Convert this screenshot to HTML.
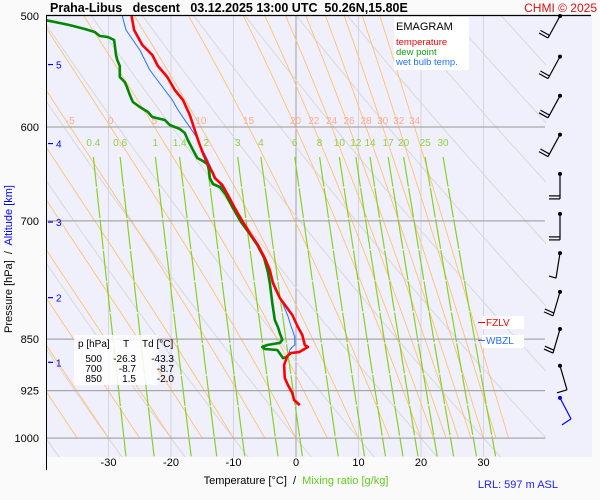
<!DOCTYPE html>
<html><head><meta charset="utf-8"><style>
body{margin:0;background:#fafafa;font-family:"Liberation Sans",sans-serif}
svg{display:block}
text{font-family:"Liberation Sans",sans-serif;white-space:pre}
</style></head><body>
<svg id="c" width="600" height="500" viewBox="0 0 600 500">
<defs>
<clipPath id="pc"><rect x="46" y="16" width="500" height="441"/></clipPath>
<clipPath id="pc1000"><rect x="46" y="16" width="500" height="422"/></clipPath>
</defs>
<rect x="46" y="16" width="546" height="441" fill="#f0f0fc"/>
<g id="grid" clip-path="url(#pc)"></g>
<g id="moist" clip-path="url(#pc1000)"></g>
<g id="mix" clip-path="url(#pc)"></g>
<g id="plines"></g>
<g id="labels"></g>
<g id="series" clip-path="url(#pc)"></g>
<g id="barbs"></g>
<line x1="46" y1="15.5" x2="591" y2="15.5" stroke="#000" stroke-width="1.3"/>
<line x1="46.5" y1="15" x2="46.5" y2="470" stroke="#000" stroke-width="1"/>
<text x="50" y="12" font-size="12.5" font-weight="bold" fill="#000" xml:space="preserve">Praha-Libus   descent   03.12.2025 13:00 UTC  50.26N,15.80E</text>
<text x="597" y="12" font-size="12" fill="#e01010" text-anchor="end">CHMI © 2025</text>
<g>
<rect x="394" y="17" width="75" height="53" fill="#fff"/>
<text x="396" y="30" font-size="11" fill="#000">EMAGRAM</text>
<text x="396" y="45" font-size="9.5" fill="#ff0000">temperature</text>
<text x="396" y="55" font-size="9.5" fill="#10a010">dew point</text>
<text x="396" y="65" font-size="9.5" fill="#2070ff">wet bulb temp.</text>
</g>
<g font-size="10" fill="#000">
<rect x="74" y="335" width="84" height="50" fill="#fff" opacity="0.85"/>
<text x="78" y="347">p [hPa]</text><text x="123" y="347">T</text><text x="142" y="347">Td [°C]</text>
<text x="102" y="362" text-anchor="end">500</text><text x="136" y="362" text-anchor="end">-26.3</text><text x="174" y="362" text-anchor="end">-43.3</text>
<text x="102" y="372" text-anchor="end">700</text><text x="136" y="372" text-anchor="end">-8.7</text><text x="174" y="372" text-anchor="end">-8.7</text>
<text x="102" y="382" text-anchor="end">850</text><text x="136" y="382" text-anchor="end">1.5</text><text x="174" y="382" text-anchor="end">-2.0</text>
</g>
<g><rect x="482" y="316" width="42" height="13" fill="#fff"/><line x1="478" y1="322.5" x2="485" y2="322.5" stroke="#f00"/><text x="486" y="326" font-size="10" fill="#f00">FZLV</text></g>
<g><rect x="482" y="335" width="42" height="13" fill="#fff"/><line x1="478" y1="340.5" x2="485" y2="340.5" stroke="#2070ff"/><text x="486" y="344" font-size="10" fill="#2070ff">WBZL</text></g>
<text transform="translate(12,259) rotate(-90)" font-size="11" text-anchor="middle" xml:space="preserve"><tspan fill="#000">Pressure [hPa]  /  </tspan><tspan fill="#0000ff">Altitude [km]</tspan></text>
<text x="296" y="484" font-size="11" text-anchor="middle" xml:space="preserve"><tspan fill="#000">Temperature [°C]  /  </tspan><tspan fill="#60cc20">Mixing ratio [g/kg]</tspan></text>
<text x="558" y="488" font-size="11" fill="#2020ff" text-anchor="end">LRL: 597 m ASL</text>
</svg>
<script>
// ---- data ----
const tempP=[500,511.6,524.4,533.1,542.8,552.7,564.6,573.9,588.3,603,616,626.2,636.6,646,652.4,659.9,670.8,685.3,701.3,714,728.2,744,758.8,775.1,794.4,817,833.2,844.2,858.2,861,868.2,869.6,873.9,886.9,906,916.5,928.6,939.3,947.2];
const tempT=[-26.3,-25.9,-24.6,-23.0,-22.1,-20.6,-19.4,-18.1,-17.0,-16.2,-15.5,-14.9,-14.2,-13.4,-13.0,-11.8,-10.9,-9.8,-8.5,-7.4,-6.1,-5.0,-4.2,-3.7,-2.6,-0.6,0.3,1.0,1.4,1.9,0.5,-0.8,-1.4,-1.9,-1.8,-1.3,-0.6,-0.3,0.6];
const dewP=[500,503.3,505.8,507.5,510.8,513.3,516.7,517.5,520.1,524.4,533.1,537.5,542.8,552.7,557.3,562.7,569.2,575.8,580.6,585.4,590.2,593.1,598,601.9,605.9,613,623,631.3,634.4,637.5,643.8,652.4,658.8,662.1,670.8,685.3,701.3,714,728.2,744,761.3,775.1,801,823.7,833.2,841.4,851.1,855.3,858.2,861,863.9,865.3,872.5,876.8,875.4];
const dewT=[-43.3,-40.2,-37.8,-36.2,-33.8,-32.2,-31.4,-30.1,-29.1,-29.0,-28.8,-28.6,-28.2,-28.2,-27.4,-27.0,-26.6,-26.1,-25.0,-23.7,-23.0,-21.0,-20.2,-18.6,-17.8,-17.3,-16.5,-15.8,-14.9,-14.2,-13.9,-13.8,-13.3,-12.2,-11.2,-10.1,-8.8,-7.5,-6.2,-5.1,-4.5,-4.2,-3.8,-3.4,-2.9,-2.6,-2.2,-2.6,-4.6,-5.4,-5.0,-3.0,-2.4,-2.1,-1.6];
const wbP=[500,511.6,520.1,528.7,537.5,546.4,555.4,564.6,573.9,583.4,593.1,600.1,611.3,623.7,634,644.7,652.4,660.8,671.9,686.4,702.4,715.2,729.4,745.2,761.3,777.6,790.5,806.2,818.3,831.8,846.9,858.2,861,865.3,875.4];
const wbT=[-27.8,-27.2,-26.1,-25.0,-24.2,-23.4,-22.2,-21.0,-19.8,-18.9,-17.8,-17.0,-15.8,-14.9,-14.1,-13.4,-12.8,-12.0,-10.9,-9.8,-8.5,-7.4,-6.1,-5.0,-4.2,-3.4,-2.7,-1.9,-1.3,-0.8,-0.2,-0.2,-0.6,-1.0,-1.3];
const pressureTicks=[500,600,700,850,925,1000];
const tempTicks=[-30,-20,-10,0,10,20,30];
const altKm=[5,4,3,2,1];
const altP=[541.5,616.5,701.3,794,883];
const moistVals=[-40,-35,-30,-25,-20,-15,-10,-5,0,5,10,15,20,22,24,26,28,30,32,34];
const moistLabels=[-5,0,5,10,15,20,22,24,26,28,30,32,34];
const mixVals=[0.4,0.6,1,1.4,2,3,4,6,8,10,12,14,17,20,25,30];
const dryThetaC=[-40,-30,-20,-10,0,10,20,30,40,50,60,70,80,90,100,110,120];
const windLevels=[500,534.5,570,607.5,648,692,738,786.5,836,888,936];

// ---- axes ----
const NS='http://www.w3.org/2000/svg';
const yP=p=>16+609*Math.log(p/500);
const xT=t=>296+6.25*t;
function el(tag,attrs,parent){const e=document.createElementNS(NS,tag);for(const k in attrs)e.setAttribute(k,attrs[k]);parent.appendChild(e);return e;}
const G=id=>document.getElementById(id);
const es=t=>6.112*Math.exp(17.67*t/(t+243.5));

tempTicks.forEach(t=>{
  const l=el('line',{x1:xT(t),x2:xT(t),y1:16,y2:457,stroke:t===0?'#a0a0a0':'#d4d4dc','stroke-width':1},G('grid'));
  
  
  const tx=el('text',{x:xT(t),y:466,'font-size':11,'text-anchor':'middle',fill:'#000'},G('labels'));
  tx.textContent=t;
  
  
});
dryThetaC.forEach(th=>{
  let pts=[];for(let p=480;p<=1040;p+=10){const t=(th+273.15)*Math.pow(p/1000,0.286)-273.15;pts.push(xT(t).toFixed(1)+','+yP(p).toFixed(1));}
  const l=el('polyline',{points:pts.join(' '),fill:'none',stroke:'#d8d8d8','stroke-width':1},G('grid'));
  
  
});
function moist(tw){let t=tw,pts=[];for(let p=1000;p>=480;p-=2){pts.push([p,t]);const tk=t+273.15,e=es(t),rs=0.622*e/(p-e);const dTdp=(287*tk+2.5e6*rs)/(p*(1005+2.5e6*2.5e6*rs*0.622/(287*tk*tk)));t-=dTdp*2;}return pts;}
moistVals.forEach(tw=>{
  const pts=moist(tw);
  const l=el('polyline',{points:pts.map(a=>xT(a[1]).toFixed(1)+','+yP(a[0]).toFixed(1)).join(' '),fill:'none',stroke:'#ffc070','stroke-width':0.9},G('moist'));
  
  
  if(moistLabels.includes(tw)){const a=pts.find(q=>q[0]<=600);
    const tx=el('text',{x:xT(a[1]),y:124,'font-size':10,'text-anchor':'middle',fill:'#ffaa90'},G('labels'));
    tx.textContent=tw;
    
    }
});
function tw(w,p){const e=w*p/(622+w),l=Math.log(e/6.112);return 243.5*l/(17.67-l);}
mixVals.forEach(w=>{
  const pTop=500*Math.exp((157-16)/609);let pts=[];
  for(let p=pTop;p<=1035;p+=8)pts.push(xT(tw(w,p)).toFixed(1)+','+yP(p).toFixed(1));
  const l=el('polyline',{points:pts.join(' '),fill:'none',stroke:'#88d020','stroke-width':1.2,'stroke-dasharray':'30 1.5'},G('mix'));
  
  
  const tx=el('text',{x:xT(tw(w,pTop)),y:146,'font-size':10,'text-anchor':'middle',fill:'#90d040'},G('labels'));
  tx.textContent=w;
  
  
});
pressureTicks.forEach(p=>{
  if(p!==500){const l=el('line',{x1:46,x2:545,y1:yP(p),y2:yP(p),stroke:'#a8a8a8','stroke-width':1.2},G('plines'));
  
  }
  const tx=el('text',{x:39,y:yP(p)+4,'font-size':11,'text-anchor':'end',fill:'#000'},G('labels'));
  tx.textContent=p;
  
  
});
altKm.forEach((k,i)=>{
  const y=yP(altP[i]);
  el('line',{x1:48,x2:53,y1:y,y2:y,stroke:'#0000ff','stroke-width':1.2},G('labels'));
  const tx=el('text',{x:56,y:y+4,'font-size':10,fill:'#0000ff'},G('labels'));
  tx.textContent=k;
  
  
});
function series(P,T,color,w,name){
  const l=el('polyline',{points:P.map((p,i)=>xT(T[i]).toFixed(1)+','+yP(p).toFixed(1)).join(' '),fill:'none',stroke:color,'stroke-width':w,'stroke-linejoin':'round'},G('series'));
  
  
}
series(wbP,wbT,'#2070ff',1,'wet-bulb-line');
series(dewP,dewT,'#008800',2.6,'dew-point-line');
series(tempP,tempT,'#ff0000',2.6,'temperature-line');
const barbShapes=[
 [[-12,22],[[-9,-5],[-9,-5]]],[[-12,22],[[-9,-5],[-9,-5]]],[[-12,22],[[-9,-5],[-9,-5]]],[[-12,22],[[-9,-5],[-9,-5]]],
 [[0,25],[[-11,0],[-11,0]]],[[0,26],[[-11,0],[-11,0]]],[[-4,25],[[-7,-2]]],[[-7,24],[[-9,-4],[-9,-4]]],[[-7,24],[[-9,-4],[-9,-4]]],
 [[7,24],[[-10,3]]],[[11,21],[[-9,6]]]];
windLevels.forEach((p,i)=>{
  const y=(i===0?16:yP(p)),x=560,s=barbShapes[i],col=i===10?'#0000ff':'#000';
  const g=el('g',{},G('barbs'));
  
  
  el('circle',{cx:x,cy:y,r:2,fill:col},g);
  const ex=x+s[0][0],ey=y+s[0][1];
  el('line',{x1:x,y1:y,x2:ex,y2:ey,stroke:col,'stroke-width':1.2},g);
  s[1].forEach((b,j)=>{const f=j*3/Math.hypot(s[0][0],s[0][1]);const bx=ex-s[0][0]*f,by=ey-s[0][1]*f;
    el('line',{x1:bx,y1:by,x2:bx+b[0],y2:by+b[1],stroke:col,'stroke-width':1.2},g);});
});
</script>
</body></html>
